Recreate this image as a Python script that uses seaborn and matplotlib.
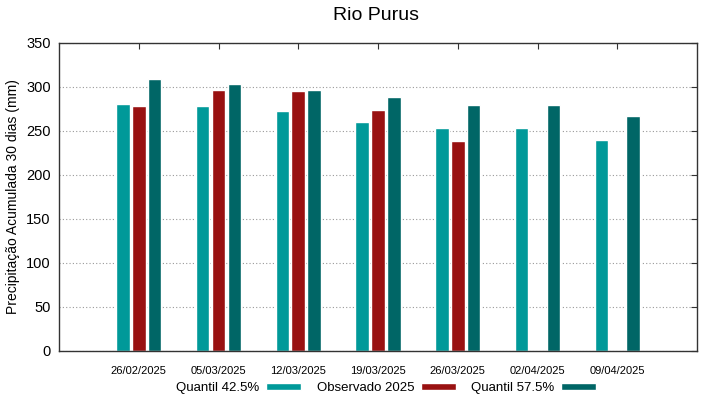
import numpy as np
import pandas as pd
import matplotlib
matplotlib.use("Agg")
import matplotlib.pyplot as plt
import seaborn as sns

# Data
datas = ["26/02/2025", "05/03/2025", "12/03/2025", "19/03/2025",
         "26/03/2025", "02/04/2025", "09/04/2025"]
quantil_425 = [281, 278, 272.5, 260, 253, 253, 240]
observado = [278, 296.5, 295, 273.5, 238, np.nan, np.nan]
quantil_575 = [309, 303, 297, 288, 280, 280, 267]

series = ["Quantil 42.5%", "Observado 2025", "Quantil 57.5%"]
cores = ["#009999", "#991111", "#006666"]

df = pd.DataFrame({
    "data": datas * 3,
    "serie": [series[0]] * 7 + [series[1]] * 7 + [series[2]] * 7,
    "valor": quantil_425 + observado + quantil_575,
})

sns.set_style("white")
plt.rcParams["font.family"] = ["Liberation Sans", "DejaVu Sans"]
plt.rcParams["text.color"] = "black"
plt.rcParams["axes.labelcolor"] = "black"
plt.rcParams["xtick.color"] = "black"
plt.rcParams["ytick.color"] = "black"

fig = plt.figure(figsize=(7.19, 3.99), dpi=100)
ax = fig.add_axes([59 / 719, 1 - 350.5 / 399, 638 / 719, 307.5 / 399])

sns.barplot(data=df, x="data", y="valor", hue="serie", hue_order=series,
            palette=cores, errorbar=None, width=0.6, gap=0.15,
            saturation=1, ax=ax)

ax.set_xlim(-1, 7)
ax.set_ylim(0, 350)
ax.set_yticks(range(0, 351, 50))
ax.yaxis.grid(True, linestyle=(0, (1, 2)), color="#999999", linewidth=0.8)
ax.set_axisbelow(True)

for s in ax.spines.values():
    s.set_color("#333333")
    s.set_linewidth(1.0)

ax.tick_params(axis="both", direction="in", top=True, right=True,
               length=4, color="#333333")
ax.tick_params(axis="x", labelsize=8, pad=11)
ax.tick_params(axis="y", labelsize=10.5, pad=6)

ax.set_xlabel("")
ax.set_ylabel("Precipitação Acumulada 30 dias (mm)", fontsize=10)
fig.text(0.523, 1 - 16 / 399, "Rio Purus", fontsize=14,
         ha="center", va="center")

handles, labels = ax.get_legend_handles_labels()
ax.legend_.remove()
fig.legend(handles, labels, loc="center",
           bbox_to_anchor=(0.537, 1 - 388 / 399), ncol=3,
           frameon=False, markerfirst=False, fontsize=9.5,
           handlelength=2.65, handleheight=0.5, columnspacing=1.2,
           handletextpad=0.5)

fig.savefig("out.png", dpi=100)
